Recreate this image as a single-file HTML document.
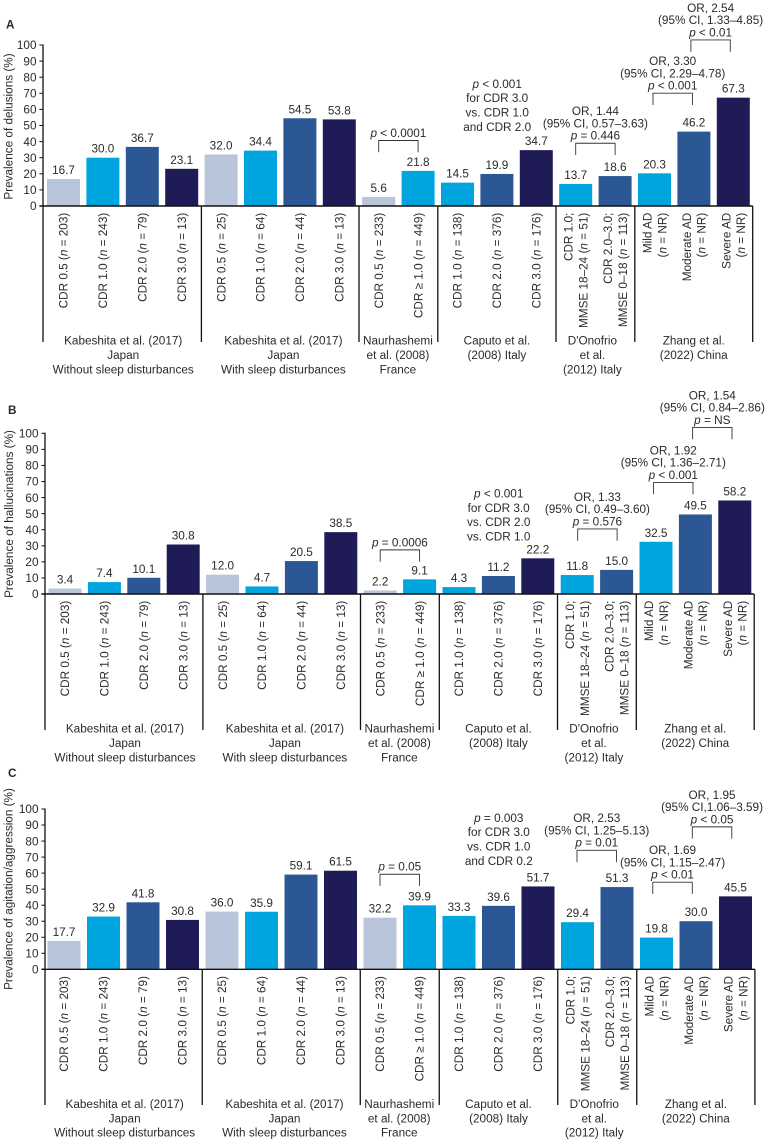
<!DOCTYPE html>
<html lang="en">
<head>
<meta charset="utf-8">
<title>Prevalence of neuropsychiatric symptoms by study</title>
<style>
html,body{margin:0;padding:0;background:#fff;}
#chart{display:block;width:767px;height:1142px;filter:blur(0.3px);}
text{font-family:"Liberation Sans",Arial,sans-serif;font-size:11.75px;fill:#2a2a2a;}
</style>
</head>
<body>
<svg id="chart" xmlns="http://www.w3.org/2000/svg" width="767" height="1142" viewBox="0 0 767 1142"></svg>
<script>
// ---- data ----
const categories = [
  "CDR 0.5 (*n* = 203)", "CDR 1.0 (*n* = 243)", "CDR 2.0 (*n* = 79)", "CDR 3.0 (*n* = 13)",
  "CDR 0.5 (*n* = 25)", "CDR 1.0 (*n* = 64)", "CDR 2.0 (*n* = 44)", "CDR 3.0 (*n* = 13)",
  "CDR 0.5 (*n* = 233)", "CDR ≥ 1.0 (*n* = 449)",
  "CDR 1.0 (*n* = 138)", "CDR 2.0 (*n* = 376)", "CDR 3.0 (*n* = 176)",
  "CDR 1.0;|MMSE 18–24 (*n* = 51)", "CDR 2.0–3.0;|MMSE 0–18 (*n* = 113)",
  "Mild AD|(*n* = NR)", "Moderate AD|(*n* = NR)", "Severe AD|(*n* = NR)"
];
const severityClass = [0,1,2,3, 0,1,2,3, 0,1, 1,2,3, 1,2, 1,2,3];
const delusionsValues = [16.7,30.0,36.7,23.1, 32.0,34.4,54.5,53.8, 5.6,21.8, 14.5,19.9,34.7, 13.7,18.6, 20.3,46.2,67.3];
const hallucinationsValues = [3.4,7.4,10.1,30.8, 12.0,4.7,20.5,38.5, 2.2,9.1, 4.3,11.2,22.2, 11.8,15.0, 32.5,49.5,58.2];
const agitationValues = [17.7,32.9,41.8,30.8, 36.0,35.9,59.1,61.5, 32.2,39.9, 33.3,39.6,51.7, 29.4,51.3, 19.8,30.0,45.5];
const tickLabels = [0,10,20,30,40,50,60,70,80,90,100];
const studyGroupSizes = [4,4,2,3,2,3];
const studyLabels = [
  ["Kabeshita et al. (2017)","Japan","Without sleep disturbances"],
  ["Kabeshita et al. (2017)","Japan","With sleep disturbances"],
  ["Naurhashemi","et al. (2008)","France"],
  ["Caputo et al.","(2008) Italy"],
  ["D'Onofrio","et al.","(2012) Italy"],
  ["Zhang et al.","(2022) China"]
];
const delusionsNotes = [
  {from:8,to:9,anchor:9,lift:18.6,shift:0,lines:["*p* < 0.0001"]},
  {from:13,to:14,anchor:14,lift:21,shift:0,lines:["OR, 1.44","(95% CI, 0.57–3.63)","*p* = 0.446"]},
  {from:15,to:16,anchor:16,lift:26.6,shift:-1.5,lines:["OR, 3.30","(95% CI, 2.29–4.78)","*p* < 0.001"]},
  {from:16,to:17,anchor:17,lift:45.9,shift:-3,lines:["OR, 2.54","(95% CI, 1.33–4.85)","*p* < 0.01"]}
];
const hallucinationsNotes = [
  {from:8,to:9,anchor:9,lift:17.7,shift:0,lines:["*p* = 0.0006"]},
  {from:13,to:14,anchor:14,lift:29.2,shift:0.5,lines:["OR, 1.33","(95% CI, 0.49–3.60)","*p* = 0.576"]},
  {from:15,to:16,anchor:16,lift:20.2,shift:-2.4,lines:["OR, 1.92","(95% CI, 1.36–2.71)","*p* < 0.001"]},
  {from:16,to:17,anchor:17,lift:61.2,shift:-2.8,lines:["OR, 1.54","(95% CI, 0.84–2.86)","*p* = NS"]}
];
const agitationNotes = [
  {from:8,to:9,anchor:9,lift:19.3,shift:0,lines:["*p* = 0.05"]},
  {from:13,to:14,anchor:14,lift:25,shift:-0.5,lines:["OR, 2.53","(95% CI, 1.25–5.13)","*p* = 0.01"]},
  {from:15,to:16,anchor:16,lift:27.2,shift:-3.7,lines:["OR, 1.69","(95% CI, 1.15–2.47)","*p* < 0.01"]},
  {from:16,to:17,anchor:17,lift:57.7,shift:-3.7,lines:["OR, 1.95","(95% CI,1.06–3.59)","*p* < 0.05"]}
];
const delusionsComparison = {anchor:12,over:11,lift:23.4,lines:["*p* < 0.001","for CDR 3.0","vs. CDR 1.0","and CDR 2.0"]};
const hallucinationsComparison = {anchor:12,over:11,lift:22,lines:["*p* < 0.001","for CDR 3.0","vs. CDR 2.0","vs. CDR 1.0"]};
const agitationComparison = {anchor:12,over:11,lift:25.7,lines:["*p* = 0.003","for CDR 3.0","vs. CDR 1.0","and CDR 0.2"]};

// ---- layout ----
const severityColors = ["#b8c5da","#00a5e0","#2b5894","#1f1b57"];
const studyLabelNudge = [1, 3.2, -0.5, 0, -3, 0];
const panels = [
  {id:"delusions",letter:"A",letterX:6,letterY:28.5,title:"Prevalence of delusions (%)",titleX:12.3,titleY:126.5,
   values:delusionsValues,notes:delusionsNotes,comparison:delusionsComparison,
   axisX:43,y0:206,y100:45,start:63.5,step:39.4,bottom:342,dx:0},
  {id:"hallucinations",letter:"B",letterX:8,letterY:413.8,title:"Prevalence of hallucinations (%)",titleX:12.8,titleY:514,
   values:hallucinationsValues,notes:hallucinationsNotes,comparison:hallucinationsComparison,
   axisX:45,y0:594,y100:433.3,start:65,step:39.4,bottom:730,dx:1.8},
  {id:"agitation",letter:"C",letterX:8,letterY:777,title:"Prevalence of agitation/aggression (%)",titleX:12.6,titleY:889,
   values:agitationValues,notes:agitationNotes,comparison:agitationComparison,
   axisX:45,y0:969.3,y100:809,start:64,step:39.5,bottom:1105,dx:1.8}
];
const svg = document.getElementById('chart');
const NS = 'http://www.w3.org/2000/svg';
function mk(tag, parent){
  const e = document.createElementNS(NS, tag);
  parent.appendChild(e);
  return e;
}
function fillRich(t, str){
  str.split('*').forEach(function(part, i){
    if(!part) return;
    const s = document.createElementNS(NS,'tspan');
    if(i % 2 === 1) s.setAttribute('font-style','italic');
    s.textContent = part;
    t.appendChild(s);
  });
}
function drawLine(parent, x1, y1, x2, y2, w){
  const l = mk('line', parent);
  l.setAttribute('x1', x1); l.setAttribute('y1', y1);
  l.setAttribute('x2', x2); l.setAttribute('y2', y2);
  l.setAttribute('stroke', '#111');
  l.setAttribute('stroke-width', w);
  return l;
}
panels.forEach(function(p){
  const yScale = function(v){ return p.y0 - (p.y0 - p.y100) * v / 100; };
  const xScale = function(i){ return p.start + p.step * i; };
  const g = mk('g', svg);
  
  

  const letter = mk('text', g);
  
  
  letter.setAttribute('x', p.letterX);
  letter.setAttribute('y', p.letterY);
  letter.setAttribute('font-weight', 'bold');
  letter.textContent = p.letter;

  const title = mk('text', g);
  
  
  title.setAttribute('text-anchor', 'middle');
  title.setAttribute('transform', 'rotate(-90 ' + p.titleX + ' ' + p.titleY + ')');
  title.setAttribute('x', p.titleX);
  title.setAttribute('y', p.titleY);
  title.textContent = p.title;

  // ticks
  tickLabels.forEach(function(v){
    const y = yScale(v);
    const tick = drawLine(g, p.axisX - 3.6, y, p.axisX, y, 1);
    
    
    const lab = mk('text', g);
    
    
    lab.setAttribute('x', p.axisX - 6.5);
    lab.setAttribute('y', y + 4.2);
    lab.setAttribute('text-anchor', 'end');
    lab.textContent = v;
  });

  // bars
  p.values.forEach(function(v, i){
    const cx = xScale(i);
    const top = yScale(v);
    const bar = mk('rect', g);
    
    
    bar.setAttribute('x', cx - 16.5);
    bar.setAttribute('y', top);
    bar.setAttribute('width', 33);
    bar.setAttribute('height', p.y0 - top);
    bar.setAttribute('fill', severityColors[severityClass[i]]);

    const val = mk('text', g);
    
    
    val.setAttribute('x', cx);
    val.setAttribute('y', top - 5);
    val.setAttribute('text-anchor', 'middle');
    val.textContent = v.toFixed(1);

    const parts = categories[i].split('|');
    parts.forEach(function(part, k){
      const off = parts.length === 1 ? 0 : (k === 0 ? -7.2 : 7.6);
      const lx = cx + off + 4.2;
      const ly = p.y0 + 6.7;
      const cat = mk('text', g);
      
      
      cat.setAttribute('x', lx);
      cat.setAttribute('y', ly);
      cat.setAttribute('text-anchor', 'end');
      cat.setAttribute('transform', 'rotate(-90 ' + lx + ' ' + ly + ')');
      fillRich(cat, part);
    });
  });

  // axes and study dividers
  const right = xScale(p.values.length - 1) + 19.4;
  const xAxis = drawLine(g, p.axisX - 3.6, p.y0, right, p.y0, 1.4);
  
  
  const yAxis = drawLine(g, p.axisX, p.y100 - 0.5, p.axisX, p.bottom, 1.3);
  
  

  let first = 0;
  studyGroupSizes.forEach(function(n, gi){
    const last = first + n - 1;
    const divX = gi === studyGroupSizes.length - 1 ? right : (xScale(last) + xScale(last + 1)) / 2;
    const div = drawLine(g, divX, p.y0, divX, p.bottom, 1.3);
    
    
    const leftX = first === 0 ? p.axisX : (xScale(first - 1) + xScale(first)) / 2;
    const cx = (leftX + divX) / 2 + studyLabelNudge[gi];
    studyLabels[gi].forEach(function(line, k){
      const lab = mk('text', g);
      
      
      lab.setAttribute('x', cx);
      lab.setAttribute('y', p.y0 + 138.6 + k * 14.4);
      lab.setAttribute('text-anchor', 'middle');
      lab.textContent = line;
    });
    first += n;
  });

  // significance brackets
  p.notes.forEach(function(n){
    const xa = xScale(n.from) + n.shift;
    const xb = xScale(n.to) + n.shift;
    const bot = yScale(p.values[n.anchor]) - n.lift;
    const top = bot - 11.8;
    const br = mk('path', g);
    
    
    br.setAttribute('d', 'M' + xa + ' ' + bot + 'V' + top + 'H' + xb + 'V' + bot);
    br.setAttribute('fill', 'none');
    br.setAttribute('stroke', '#333');
    br.setAttribute('stroke-width', 0.9);
    n.lines.forEach(function(line, k){
      const t = mk('text', g);
      
      
      t.setAttribute('x', (xa + xb) / 2);
      t.setAttribute('y', top - 3.6 - (n.lines.length - 1 - k) * 12.25);
      t.setAttribute('text-anchor', 'middle');
      fillRich(t, line);
    });
  });

  // CDR comparison note without a bracket
  const c = p.comparison;
  c.lines.forEach(function(line, k){
    const t = mk('text', g);
    
    
    t.setAttribute('x', xScale(c.over) + 0.3);
    t.setAttribute('y', yScale(p.values[c.anchor]) - c.lift + 4.2 - (c.lines.length - 1 - k) * 14.35);
    t.setAttribute('text-anchor', 'middle');
    fillRich(t, line);
  });
});
</script>
</body>
</html>
